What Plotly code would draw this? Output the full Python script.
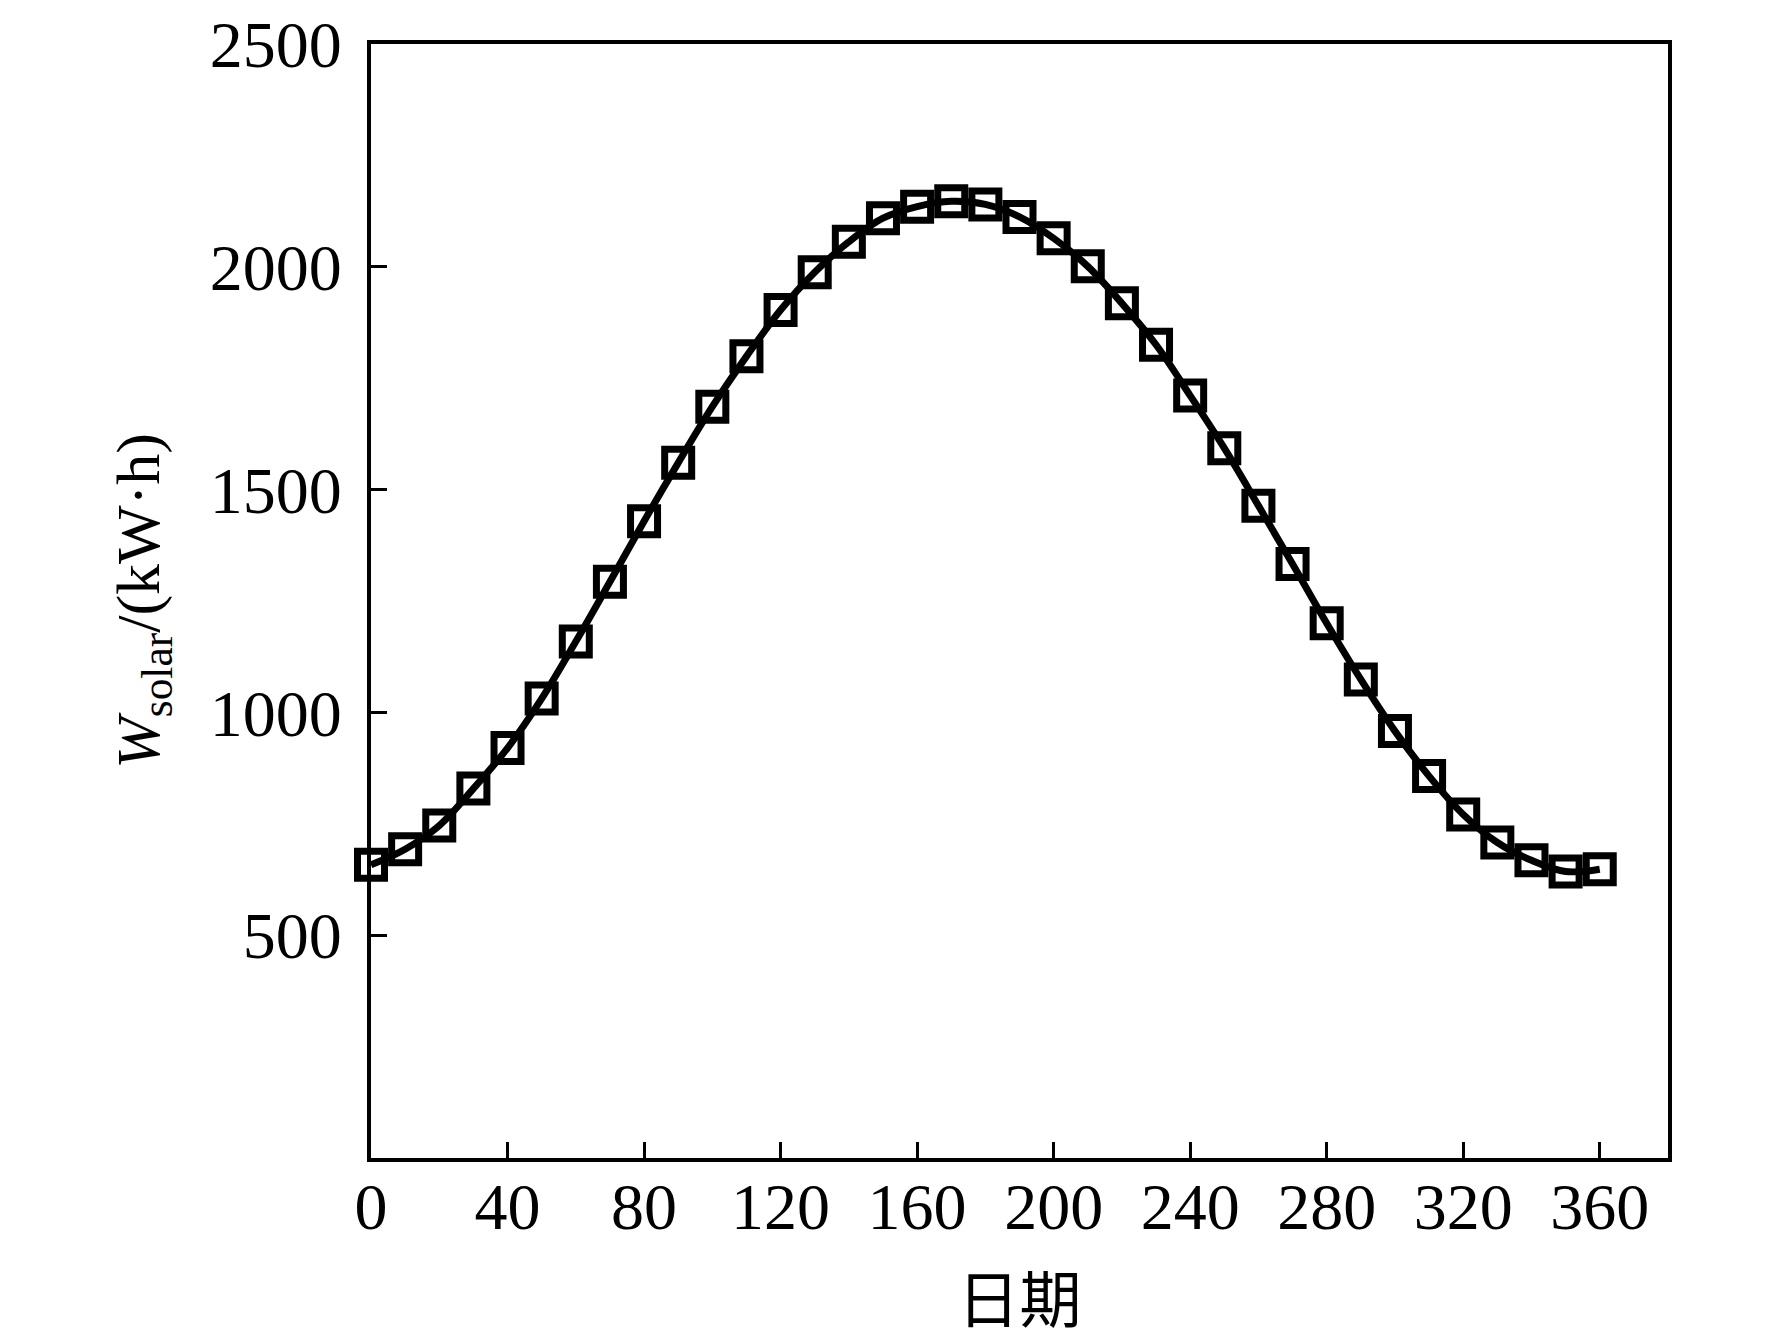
import plotly.graph_objects as go

# day of year and daily solar energy (kW·h)
days = list(range(0, 361, 10))
w_solar = [658, 693, 746, 829, 920, 1031, 1159, 1293, 1429, 1560,
           1686, 1799, 1903, 1988, 2056, 2109, 2135, 2147, 2140, 2112,
           2064, 2001, 1918, 1825, 1711, 1593, 1464, 1333, 1200, 1074,
           958, 857, 771, 708, 668, 643, 648]

x_ticks = list(range(0, 361, 40))
y_ticks = [500, 1000, 1500, 2000, 2500]

FONT = "Liberation Serif, Times New Roman, Noto Sans CJK SC, serif"

fig = go.Figure()
fig.add_trace(go.Scatter(
    x=days, y=w_solar, mode="lines+markers",
    line=dict(color="black", width=7, shape="spline"),
    marker=dict(symbol="square-open", size=27, color="black",
                line=dict(width=7, color="black")),
    cliponaxis=False,
    showlegend=False,
))

axis_common = dict(
    showline=True, linecolor="black", linewidth=4, mirror=True,
    ticks="inside", ticklen=16, tickwidth=3, tickcolor="black",
    showgrid=False, zeroline=False, automargin=False,
    ticklabeloverflow="allow",
    tickfont=dict(family=FONT, size=66, color="black"),
)

fig.update_xaxes(
    range=[0, 380], tickvals=x_ticks, ticklabelstandoff=-12,
    title=dict(text="日期", font=dict(family=FONT, size=62, color="black"), standoff=38),
    **axis_common,
)
fig.update_yaxes(
    range=[0, 2500], tickvals=y_ticks, ticklabelstandoff=12,
    title=dict(text="<i>W</i><sub>solar</sub>/(kW·h)",
               font=dict(family=FONT, size=62, color="black"), standoff=31),
    **axis_common,
)

fig.update_layout(
    width=1772, height=1344,
    margin=dict(l=363, r=112, t=36, b=194),
    paper_bgcolor="white", plot_bgcolor="white",
)

fig.write_html("out.html")
